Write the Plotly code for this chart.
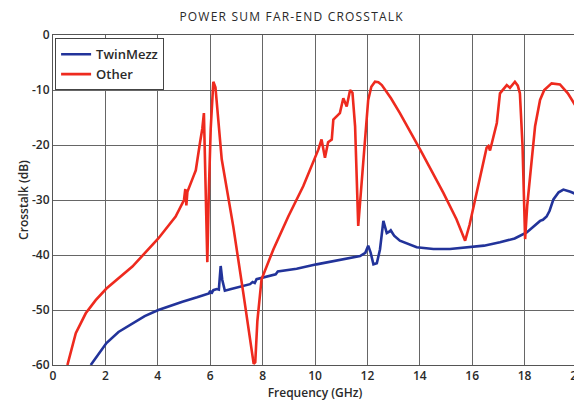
import plotly.graph_objects as go

other_x = [0.55, 0.87, 1.25, 1.63, 2.04, 3.03, 4.02, 4.68, 5.0, 5.05, 5.09, 5.13, 5.36, 5.45,
           5.61, 5.7, 5.76, 5.82, 5.89, 5.95, 6.02, 6.12, 6.2, 6.44, 6.88, 7.26, 7.54, 7.66,
           7.72, 7.8, 7.96, 8.41, 8.98, 9.55, 10.13, 10.25, 10.38, 10.5, 10.64, 10.7, 10.95,
           11.08, 11.21, 11.34, 11.43, 11.53, 11.65, 11.78, 11.91, 12.03, 12.15, 12.29, 12.42,
           12.55, 12.9, 13.24, 14.01, 14.9, 15.4, 15.73, 15.9, 16.17, 16.55, 16.62, 16.68,
           16.94, 17.06, 17.32, 17.44, 17.63, 17.74, 17.82, 17.92, 18.02, 18.1, 18.21, 18.4,
           18.59, 18.75, 19.03, 19.35, 19.65, 20.0]
other_y = [-60, -54.2, -50.6, -48.2, -46.1, -42.1, -37, -33, -30, -28, -31, -28.5, -25.7, -24.6,
           -19.6, -17, -14.2, -25, -41.3, -28, -17, -8.5, -9.5, -22.6, -34.8, -46.8, -55.9, -59.8,
           -59.5, -52, -44.4, -39, -33, -27.5, -20.8, -19, -22.3, -19.5, -19, -15.4, -14.2,
           -11.5, -13, -10, -10.5, -16.6, -34.7, -27, -19.6, -11.8, -9.4, -8.5, -8.6,
           -9.1, -11.5, -14.2, -20.8, -28.7, -33.5, -37.4, -34.5, -28.7, -20.5, -20.2, -21,
           -16, -10.6, -9.1, -9.6, -8.5, -9.2, -10.6, -20, -37.1, -31, -25.7, -16.6,
           -11.8, -10, -8.8, -9, -10.6, -13.3]

twin_x = [1.44, 1.7, 2.04, 2.5, 3.03, 3.5, 4.02, 4.5, 4.94, 5.5, 5.95, 6.0, 6.05, 6.12,
          6.25, 6.33, 6.4, 6.46, 6.56, 6.8, 7.2, 7.52, 7.62, 7.7, 7.77, 8.1, 8.5, 8.58,
          9.3, 10.06, 10.9, 11.72, 11.92, 12.03, 12.12, 12.23, 12.36, 12.48, 12.61, 12.74,
          12.82, 12.89, 13.02, 13.24, 13.88, 14.52, 15.15, 15.79, 16.45, 17.06, 17.62, 18.08,
          18.35, 18.59, 18.7, 18.84, 18.95, 19.1, 19.3, 19.48, 19.75, 20.0]
twin_y = [-60, -58.2, -56, -54, -52.4, -51.1, -50, -49.2, -48.5, -47.7, -47, -46.5, -47, -46.4,
          -46.2, -46.3, -42, -44.5, -46.5, -46.2, -45.7, -45.3, -44.9, -45.1, -44.4, -44, -43.5, -43,
          -42.5, -41.7, -41, -40.2, -39.6, -38.3, -39.5, -41.7, -41.5, -39, -33.8, -36,
          -35.8, -35.5, -36.5, -37.4, -38.6, -38.9, -38.9, -38.6, -38.3, -37.7, -37, -35.9,
          -34.8, -33.8, -33.6, -33, -32, -29.9, -28.6, -28.1, -28.5, -29]

x_ticks = [0, 2, 4, 6, 8, 10, 12, 14, 16, 18, 20]
y_ticks = [0, -10, -20, -30, -40, -50, -60]

fig = go.Figure()
fig.add_trace(go.Scatter(x=twin_x, y=twin_y, mode="lines", name="TwinMezz",
                         line=dict(color="#22339a", width=2.6)))
fig.add_trace(go.Scatter(x=other_x, y=other_y, mode="lines", name="Other",
                         line=dict(color="#ee2a1e", width=2.6)))

txt = "#2a2a2a"
axis_font = dict(family="Open Sans", size=12, color=txt, weight=600)
title_text = "\u200a".join("POWER SUM FAR-END CROSSTALK")
fig.update_layout(
    width=574, height=393,
    margin=dict(l=45, r=5, t=27, b=36, autoexpand=False),
    paper_bgcolor="white", plot_bgcolor="white",
    font=dict(family="Open Sans", color=txt),
    title=dict(text=title_text, x=0.493, xref="container", xanchor="center",
               y=0.977, yref="container", yanchor="middle",
               font=dict(family="Open Sans", size=12, color=txt)),
    showlegend=True,
    legend=dict(x=0.004, y=0.99, xanchor="left", yanchor="top",
                bgcolor="white", bordercolor="#444444", borderwidth=1,
                font=dict(family="Open Sans", size=13, color=txt, weight=600),
                tracegroupgap=0, itemwidth=30),
    xaxis=dict(range=[0, 20], tickvals=x_ticks, ticktext=[str(v) for v in x_ticks],
               showgrid=True, gridcolor="#666666", gridwidth=1, zeroline=False,
               showline=True, linecolor="#555555", linewidth=1, mirror=True,
               ticks="", tickfont=axis_font, automargin=False, ticklabeloverflow="allow",
               title=dict(text="Frequency (GHz)", standoff=0,
                          font=dict(family="Open Sans", size=12, color=txt, weight=600))),
    yaxis=dict(range=[-60, 0], tickvals=y_ticks, ticktext=[str(v) for v in y_ticks],
               showgrid=True, gridcolor="#666666", gridwidth=1, zeroline=False,
               showline=True, linecolor="#555555", linewidth=1, mirror=True,
               ticks="", tickfont=axis_font, automargin=False,
               title=dict(text="Crosstalk (dB)", standoff=0,
                          font=dict(family="Open Sans", size=12, color=txt, weight=600))),
)

fig.write_html("out.html")
